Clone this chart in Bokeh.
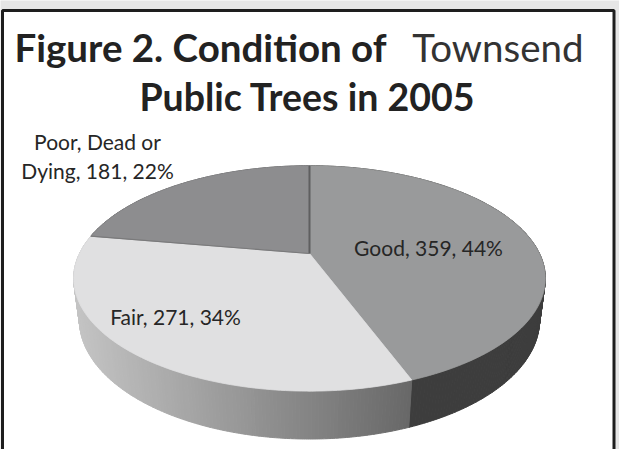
import numpy as np
from bokeh.plotting import figure
from bokeh.models import Range1d
from bokeh.embed import file_html
from bokeh.resources import INLINE
from bokeh.core.properties import value

# ---------------- data ----------------
categories = ["Good", "Fair", "Poor, Dead or Dying"]
counts = [359, 271, 181]
percents = [44, 34, 22]
title_bold = "Figure 2. Condition of"
title_normal = "Townsend"
title_line2 = "Public Trees in 2005"

# ---------------- styles / layout ----------------
FONT = "Lato"
PAGE_GRAY = "#e6e6e6"
TOP_COLORS = ["#999a9b", "#e0e0e1", "#8d8d8f"]
SIDE_COLORS = ["#3d3d3d", None, "#555555"]   # None -> gradient
FAIR_GRAD = ((0xc4, 0xc4, 0xc4), (0x68, 0x68, 0x68))

# 3D pie geometry (picture pixels)
CX, CY, R = 309.0, 253.0, 230.0
SINP, COSP = 0.466, 0.885
DIST = 4.0
H = 0.205

W, HT = 619, 449
p = figure(width=W, height=HT, x_range=Range1d(0, W), y_range=Range1d(HT, 0),
           output_backend="svg", toolbar_location=None, min_border=0,
           outline_line_color=None, background_fill_color=PAGE_GRAY,
           border_fill_color=PAGE_GRAY)
p.axis.visible = False
p.grid.visible = False

# white framed box
p.quad(left=2.0, right=613.5, top=10.0, bottom=470, fill_color="white",
       line_color="#1e1e1e", line_width=3)


def proj(theta, r=1.0, bottom=False):
    u = r * np.sin(theta)
    v = -r * np.cos(theta)
    t = v * COSP - (H * SINP if bottom else 0.0)
    s = DIST / (DIST - t)
    X = CX + R * u * s
    Y = CY + R * (v * SINP + (H * COSP if bottom else 0.0)) * s
    return X, Y


total = float(sum(counts))
fracs = np.array(counts) / total
ends = np.cumsum(fracs) * 2 * np.pi
starts = ends - fracs * 2 * np.pi

# ---- sides (drawn first, top faces cover the hidden back part) ----
side_xs, side_ys, side_cols = [], [], []
for i in range(len(counts)):
    a0, a1 = starts[i], ends[i]
    n = max(2, int(np.degrees(a1 - a0) / 0.75))
    edges = np.linspace(a0, a1, n + 1)
    if SIDE_COLORS[i] is None:
        xs_all = proj(np.linspace(a0, a1, 200))[0]
        xmin, xmax = xs_all.min(), xs_all.max()
    for k in range(n):
        seg = np.linspace(edges[k], edges[k + 1], 3)
        tx, ty = proj(seg)
        bx, by = proj(seg[::-1], bottom=True)
        side_xs.append(list(tx) + list(bx))
        side_ys.append(list(ty) + list(by))
        if SIDE_COLORS[i] is None:
            mx = proj(0.5 * (edges[k] + edges[k + 1]))[0]
            f = (mx - xmin) / (xmax - xmin)
            c0, c1 = FAIR_GRAD
            rgb = tuple(int(round(c0[j] + (c1[j] - c0[j]) * f)) for j in range(3))
            side_cols.append("#%02x%02x%02x" % rgb)
        else:
            side_cols.append(SIDE_COLORS[i])
p.patches(xs=side_xs, ys=side_ys, fill_color=side_cols, line_color=side_cols, line_width=1.0)

# ---- top faces ----
top_xs, top_ys = [], []
cx0, cy0 = proj(0.0, r=0.0)
for i in range(len(counts)):
    arc = np.linspace(starts[i], ends[i], 120)
    ax, ay = proj(arc)
    top_xs.append([cx0] + list(ax))
    top_ys.append([cy0] + list(ay))
p.patches(xs=top_xs, ys=top_ys, fill_color=TOP_COLORS, line_color=TOP_COLORS, line_width=0.8)

# radial seam lines (Good/Poor at top, Poor/Fair)
for ang, col, lw in [(0.0, "#5f5f60", 2.0), (starts[2], "#7a7a7b", 1.2)]:
    ex, ey = proj(ang)
    p.line([cx0, ex], [cy0, ey], line_color=col, line_width=lw)

# ---- data labels ----
labels = [f"{c}, {n}, {pc}%" for c, n, pc in zip(categories, counts, percents)]
poor_words = labels[2].split(" ")
label_lines = [[labels[0]], [labels[1]], [" ".join(poor_words[:3]), " ".join(poor_words[3:])]]
LABEL_X = [428, 175, 97]
LABEL_BASE = [[247], [315.5], [141, 170]]
tx_, ty_, tt_ = [], [], []
for lines, x0, bases in zip(label_lines, LABEL_X, LABEL_BASE):
    for ln, b in zip(lines, bases):
        tx_.append(x0)
        ty_.append(b)
        tt_.append(ln)
p.text(x=tx_, y=ty_, text=tt_, text_font=value(FONT), text_font_size="21px",
       text_color="#262626", text_align="center", text_baseline="alphabetic")

# ---- title ----
p.text(x=[14], y=[46], text=[title_bold], text_font=value(FONT), text_font_size="38.5px",
       text_font_style="bold", text_color="#222222", text_align="left",
       text_baseline="alphabetic")
p.text(x=[583], y=[46], text=[title_normal], text_font=value(FONT), text_font_size="38.5px",
       text_color="#333333", text_align="right", text_baseline="alphabetic")
p.text(x=[307], y=[96], text=[title_line2], text_font=value(FONT), text_font_size="37.5px",
       text_font_style="bold", text_color="#222222", text_align="center",
       text_baseline="alphabetic")

open("out.html", "w").write(file_html(p, INLINE))
